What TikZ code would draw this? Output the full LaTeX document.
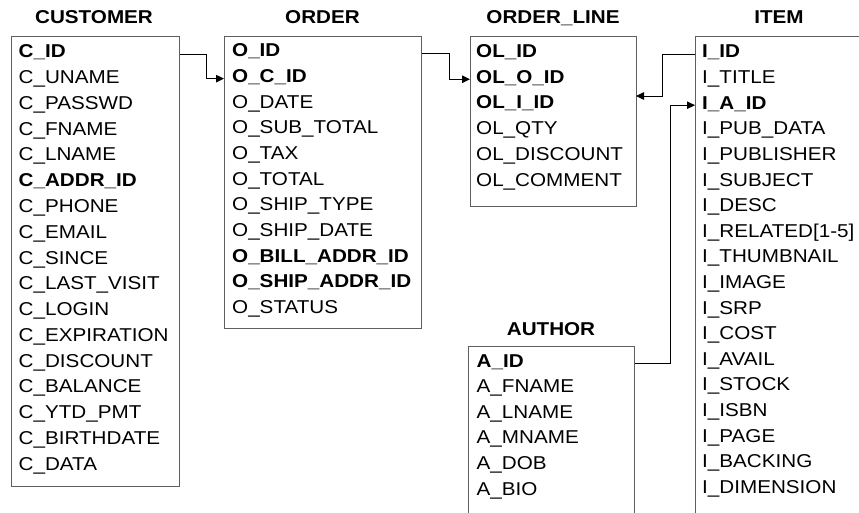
\documentclass[tikz,border=0pt]{standalone}
\usepackage{fontspec}
\setmainfont{Liberation Sans}[FakeStretch=1.11]
\usetikzlibrary{arrows.meta}
\definecolor{boxline}{RGB}{95,95,95}
\tikzset{
  tbl/.style={draw=boxline, line width=1.2pt, rectangle, inner sep=0pt, anchor=north west},
  row/.style={anchor=base west, inner sep=0pt, text height=11pt, text depth=3pt},
  ttl/.style={anchor=base, inner sep=0pt, font=\fontsize{18.6pt}{20pt}\selectfont\bfseries},
  conn/.style={draw=black, line width=0.9pt, -{Triangle[length=8pt,width=7.5pt]}}
}
\begin{document}
\begin{tikzpicture}[x=1pt, y=-1pt, font=\fontsize{18.6pt}{20pt}\selectfont]
\useasboundingbox (0,0) rectangle (859,513);
\clip (0,0) rectangle (859,513);
% boxes
\node[tbl, minimum width=168pt, minimum height=450pt] (cust) at (11,36) {};
\node[tbl, minimum width=197pt, minimum height=292pt] (order) at (224,36) {};
\node[tbl, minimum width=166pt, minimum height=170pt] (ol) at (470,36) {};
\node[tbl, minimum width=168pt, minimum height=520pt] (item) at (695,36) {};
\node[tbl, minimum width=166pt, minimum height=200pt] (author) at (468,346) {};
% titles
\node[ttl] (tcust) at (94,24) {CUSTOMER};
\node[ttl] (torder) at (322.5,24) {ORDER};
\node[ttl] (tol) at (553,24) {ORDER\_LINE};
\node[ttl] (titem) at (779,24) {ITEM};
\node[ttl] (tauthor) at (551,335) {AUTHOR};
% rows
\foreach \t [count=\i] in {\textbf{C\_ID},C\_UNAME,C\_PASSWD,C\_FNAME,C\_LNAME,\textbf{C\_ADDR\_ID},C\_PHONE,C\_EMAIL,C\_SINCE,C\_LAST\_VISIT,C\_LOGIN,C\_EXPIRATION,C\_DISCOUNT,C\_BALANCE,C\_YTD\_PMT,C\_BIRTHDATE,C\_DATA}
  \node[row] (cust-\i) at (18.5,{58+(\i-1)*25.75}) {\t};
\foreach \t [count=\i] in {\textbf{O\_ID},\textbf{O\_C\_ID},O\_DATE,O\_SUB\_TOTAL,O\_TAX,O\_TOTAL,O\_SHIP\_TYPE,O\_SHIP\_DATE,\textbf{O\_BILL\_ADDR\_ID},\textbf{O\_SHIP\_ADDR\_ID},O\_STATUS}
  \node[row] (order-\i) at (232,{57+(\i-1)*25.65}) {\t};
\foreach \t [count=\i] in {\textbf{OL\_ID},\textbf{OL\_O\_ID},\textbf{OL\_I\_ID},OL\_QTY,OL\_DISCOUNT,OL\_COMMENT}
  \node[row] (ol-\i) at (476,{57.5+(\i-1)*25.75}) {\t};
\foreach \t [count=\i] in {\textbf{I\_ID},I\_TITLE,\textbf{I\_A\_ID},I\_PUB\_DATA,I\_PUBLISHER,I\_SUBJECT,I\_DESC,I\_RELATED[1-5],I\_THUMBNAIL,I\_IMAGE,I\_SRP,I\_COST,I\_AVAIL,I\_STOCK,I\_ISBN,I\_PAGE,I\_BACKING,I\_DIMENSION}
  \node[row] (item-\i) at (702,{58+(\i-1)*25.6}) {\t};
\foreach \t [count=\i] in {\textbf{A\_ID},A\_FNAME,A\_LNAME,A\_MNAME,A\_DOB,A\_BIO}
  \node[row] (author-\i) at (476.5,{367+(\i-1)*25.6}) {\t};
% connectors
\coordinate (olin) at (636,96);
\draw[conn] (cust.east |- cust-1) -- ++(26,0) |- (order.west |- order-2);
\draw[conn] (order.east |- order-1) -- ++(27,0) |- (ol.west |- ol-2);
\draw[conn] (item.west |- item-1) -- ++(-33,0) |- (olin);
\draw[conn] (author.east |- author-1) -- ++(35,0) |- (item.west |- item-3);
\end{tikzpicture}
\end{document}
